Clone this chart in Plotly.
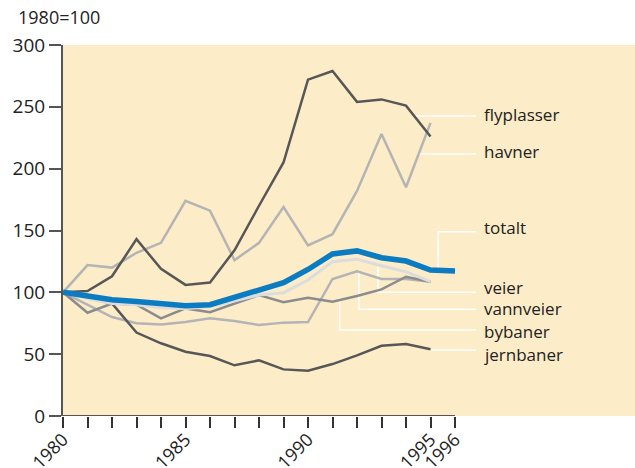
import plotly.graph_objects as go

years = list(range(1980, 1997))

flyplasser = [100, 101, 113, 143, 119, 106, 108, 134, 170, 205, 272, 279, 254, 256, 251, 226]
havner     = [100, 122, 120, 132, 140, 174, 166, 126, 140, 169, 138, 147, 182, 228, 185, 237]
totalt     = [100, 97, 94, 92.5, 90.3, 89.2, 90, 96, 102, 107.8, 118.5, 131, 133.5, 128, 125.3, 118, 117.3]
veier      = [100, 95, 91, 90, 87.5, 87, 88.4, 93, 97.8, 99.7, 110, 124.8, 126.7, 121.5, 116.7, 108.6]
vannveier  = [100, 90, 80, 75, 74, 76, 79, 76.8, 73.6, 75.5, 76, 110.8, 117, 110.8, 110.8, 108.6]
bybaner    = [100, 83.5, 91, 90, 79, 87, 84, 91, 97.8, 92, 95.7, 92.4, 97, 102.4, 112.6, 108.6]
jernbaner  = [100, 95.5, 91, 67.5, 58.8, 52, 48.5, 41, 45, 37.7, 36.6, 42, 49, 56.8, 58.2, 54]

tick_years = [1980, 1985, 1990, 1995, 1996]
y_ticks = [0, 50, 100, 150, 200, 250, 300]

DARK = "#575757"
MID = "#8c8c8c"
LIGHT = "#b4b4b4"
VLIGHT = "#dcdcdc"
BLUE = "#0b7cc1"
TAN = "#fcecc8"

series = [
    ("vannveier", vannveier, LIGHT, 2.5),
    ("bybaner", bybaner, MID, 2.5),
    ("jernbaner", jernbaner, DARK, 2.5),
    ("havner", havner, LIGHT, 2.5),
    ("flyplasser", flyplasser, DARK, 2.5),
    ("veier", veier, VLIGHT, 3),
    ("totalt", totalt, BLUE, 5.5),
]

fig = go.Figure()
for name, vals, color, w in series:
    fig.add_trace(go.Scatter(
        x=years[:len(vals)], y=vals, mode="lines", name=name,
        line=dict(color=color, width=w), showlegend=False, hoverinfo="skip",
    ))

# label leader lines: (label, path points in data coords, label y)
leaders = [
    ("flyplasser", [(1994.36, 242.6), (1996.87, 242.6)], 243.5),
    ("havner", [(1994.45, 211.9), (1996.87, 211.9)], 213.5),
    ("totalt", [(1995.31, 118.9), (1995.31, 149), (1996.87, 149)], 152.8),
    ("veier", [(1992.86, 120.7), (1992.86, 100.0), (1996.87, 100.0)], 104),
    ("vannveier", [(1992.08, 115.9), (1992.08, 86.3), (1996.87, 86.3)], 86.9),
    ("bybaner", [(1991.29, 95.2), (1991.29, 69.5), (1996.87, 69.5)], 68.7),
    ("jernbaner", [(1995.04, 53.4), (1996.87, 53.4)], 50.1),
]

shapes = []
annotations = []
for label, pts, ly in leaders:
    path = "M " + " L ".join(f"{x},{y}" for x, y in pts)
    shapes.append(dict(type="path", path=path, xref="x", yref="y",
                       line=dict(color="white", width=1.5), layer="below"))
    annotations.append(dict(x=1997.12, y=ly, xref="x", yref="y", text=label,
                            showarrow=False, xanchor="left", yanchor="middle",
                            font=dict(family="Open Sans", size=17, color="#222")))

# x-axis baseline from 1980 to 1996
shapes.append(dict(type="line", xref="x", yref="y", x0=years[0], x1=years[-1], y0=0, y1=0,
                   line=dict(color="#555", width=2), layer="above"))

fig.update_layout(
    width=635, height=468,
    margin=dict(l=63, r=0, t=45, b=52, autoexpand=False),
    paper_bgcolor="white", plot_bgcolor=TAN,
    shapes=shapes, annotations=annotations,
    title=dict(text="1980=100", xref="container", yref="container",
               x=18 / 635, xanchor="left", y=1 - 18 / 468, yanchor="middle",
               font=dict(family="Open Sans", size=18, color="#222")),
    xaxis=dict(range=[1980, 1980 + 572/24.5], showgrid=False, zeroline=False, showline=False,
               automargin=False,
               tickmode="array", tickvals=years,
               ticktext=[str(y) if y in tick_years else "" for y in years],
               ticks="outside", ticklen=11, tickwidth=1.5, tickcolor="#333",
               ticklabelstandoff=-6,
               tickangle=-45, tickfont=dict(family="Open Sans", size=18, color="#222")),
    yaxis=dict(range=[0, 300], showgrid=False, zeroline=False, showline=True,
               automargin=False,
               linecolor="#555", linewidth=2, tickmode="array", tickvals=y_ticks,
               ticks="outside", ticklen=12, tickwidth=2, tickcolor="#555",
               tickfont=dict(family="Open Sans", size=19, color="#222")),
)

fig.write_html("out.html", config={"displayModeBar": False},
               post_script="document.body.style.margin='0';document.body.style.overflow='hidden';")
